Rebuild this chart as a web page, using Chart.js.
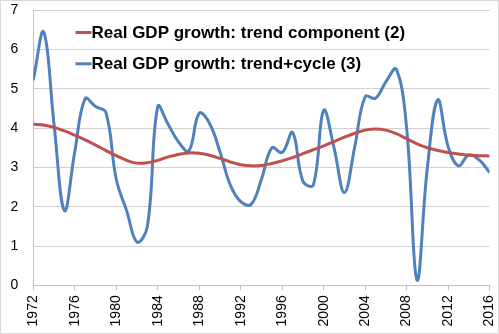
<!DOCTYPE html>
<html>
<head>
<meta charset="utf-8">
<script src="https://cdn.jsdelivr.net/npm/chart.js@4/dist/chart.umd.min.js"></script>
<style>
  html, body { margin: 0; padding: 0; background: #fff; }
  #frame { width: 497px; height: 332px; border: 1px solid #d9d9d9; }
  canvas { display: block; }
</style>
</head>
<body>
<div id="frame"><canvas id="c" width="497" height="332"></canvas></div>
<script>
// Years on the horizontal axis
const years = [1972,1973,1974,1975,1976,1977,1978,1979,1980,1981,1982,1983,1984,1985,1986,1987,1988,1989,1990,1991,1992,1993,1994,1995,1996,1997,1998,1999,2000,2001,2002,2003,2004,2005,2006,2007,2008,2009,2010,2011,2012,2013,2014,2015,2016];

// Real GDP growth, trend component (%)
const trendComponent = [4.10,4.08,4.02,3.93,3.82,3.70,3.57,3.43,3.30,3.18,3.11,3.12,3.18,3.27,3.33,3.37,3.36,3.31,3.23,3.14,3.07,3.04,3.05,3.10,3.17,3.25,3.35,3.45,3.55,3.66,3.77,3.87,3.95,3.98,3.95,3.86,3.73,3.60,3.50,3.43,3.38,3.34,3.31,3.30,3.29];

// Real GDP growth, trend plus cycle (%)
const trendPlusCycle = [5.22,6.45,4.10,1.90,3.40,4.75,4.55,4.40,2.70,1.90,1.10,1.50,4.55,4.10,3.65,3.42,4.38,4.12,3.40,2.55,2.13,2.06,2.70,3.50,3.38,3.89,2.65,2.55,4.45,3.50,2.36,3.53,4.80,4.76,5.18,5.50,4.00,0.13,3.00,4.72,3.53,3.04,3.32,3.19,2.87];

const seriesLabels = ['Real GDP growth: trend component (2)', 'Real GDP growth: trend+cycle (3)'];

const toPoints = vals => years.map((yr, i) => ({ x: yr, y: vals[i] }));

// Legend drawn inside the plot area, top left
const insideLegend = {
  id: 'insideLegend',
  afterDatasetsDraw(chart) {
    const ctx = chart.ctx;
    ctx.save();
    ctx.font = 'bold 17px "Liberation Sans", Arial, sans-serif';
    ctx.textBaseline = 'middle';
    ctx.fillStyle = '#000';
    chart.data.datasets.forEach((ds, i) => {
      const y = 31.5 + i * 31.3;
      ctx.strokeStyle = ds.borderColor;
      ctx.lineWidth = 3;
      ctx.beginPath();
      ctx.moveTo(74.5, y);
      ctx.lineTo(90.5, y);
      ctx.stroke();
      ctx.fillText(ds.label, 90.5, y + 0.5);
    });
    ctx.restore();
  }
};

new Chart(document.getElementById('c'), {
  type: 'line',
  data: {
    datasets: [
      {
        label: seriesLabels[0],
        data: toPoints(trendComponent),
        borderColor: '#c0504d',
        borderWidth: 3,
        pointRadius: 0,
        tension: 0.4,
        fill: false
      },
      {
        label: seriesLabels[1],
        data: toPoints(trendPlusCycle),
        borderColor: '#4f81bd',
        borderWidth: 3,
        pointRadius: 0,
        tension: 0.4,
        fill: false
      }
    ]
  },
  options: {
    responsive: false,
    animation: false,
    devicePixelRatio: 1,
    layout: { padding: 0 },
    plugins: {
      legend: { display: false },
      tooltip: { enabled: false }
    },
    scales: {
      x: {
        type: 'linear',
        min: 1972,
        max: 2016,
        afterFit(scale) {
          scale.height = 47.7;
          scale.paddingLeft = 0;
          scale.paddingRight = 8.4;
        },
        ticks: {
          stepSize: 4,
          minRotation: 90,
          maxRotation: 90,
          padding: 5,
          color: '#000',
          font: { family: '"Liberation Sans", Arial, sans-serif', size: 14, lineHeight: 1 },
          callback: v => String(v)
        },
        grid: {
          drawOnChartArea: false,
          drawTicks: true,
          tickLength: 5,
          color: '#bfbfbf'
        },
        border: { display: true, color: '#bfbfbf', width: 1 }
      },
      y: {
        min: 0,
        max: 7,
        afterFit(scale) {
          scale.width = 32.3;
          scale.paddingTop = 9.3;
          scale.paddingBottom = 0;
        },
        ticks: {
          stepSize: 1,
          padding: 15,
          color: '#000',
          font: { family: '"Liberation Sans", Arial, sans-serif', size: 14, lineHeight: 1 }
        },
        grid: {
          drawTicks: false,
          color: '#d0d0d0'
        },
        border: { display: true, color: '#bfbfbf', width: 1 }
      }
    }
  },
  plugins: [insideLegend]
});
</script>
</body>
</html>
